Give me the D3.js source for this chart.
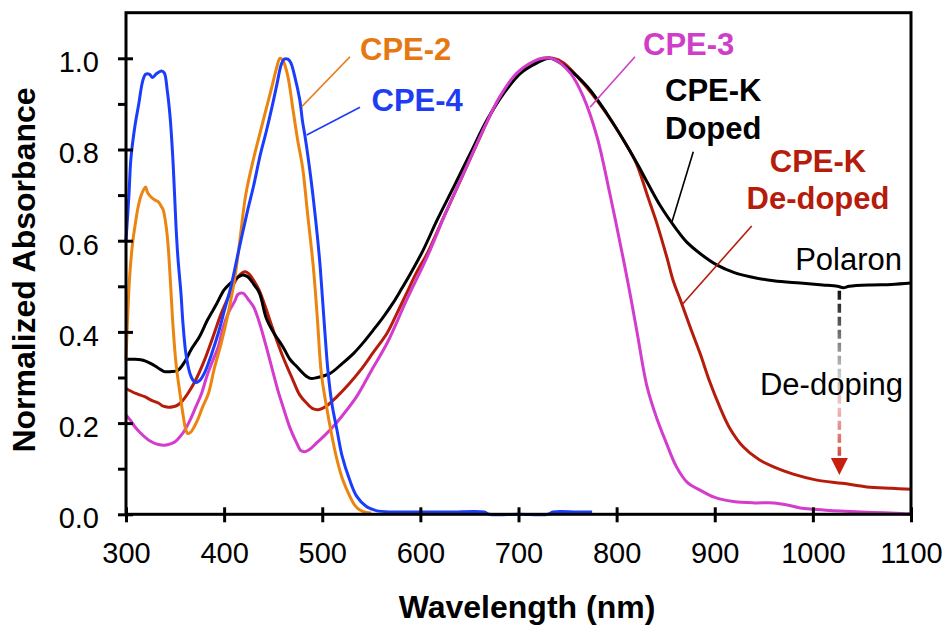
<!DOCTYPE html>
<html>
<head>
<meta charset="utf-8">
<script src="https://cdn.jsdelivr.net/npm/d3@7"></script>
<style>
  html, body { margin: 0; padding: 0; background: #fff; }
  svg { display: block; font-family: "Liberation Sans", Arial, Helvetica, sans-serif; }
</style>
</head>
<body>
<svg id="chart" width="948" height="625"></svg>
<script>
// Normalized UV-vis-NIR absorbance spectra (wavelength in nm, absorbance normalized)
const cpe4Wl  = [300,303,305,309,313,317,320,324,327,331,336,339,342,345,348,351,353,356,358,361,365,368,371,375,380,387,394,400,407,415,424,430,437,443,449,454,458,461,465,468,472,477,480,482,487,491,495,498,502,506,510,515,520,528,535,545,555,572,590,600,630,665,670,700,730,735,760,775];
const cpe4Abs = [0.60,0.70,0.78,0.85,0.90,0.95,0.965,0.965,0.958,0.966,0.972,0.968,0.93,0.87,0.77,0.63,0.56,0.485,0.42,0.353,0.31,0.295,0.289,0.293,0.31,0.35,0.397,0.445,0.50,0.58,0.667,0.72,0.79,0.84,0.895,0.945,0.985,0.998,0.998,0.99,0.96,0.91,0.86,0.835,0.76,0.69,0.61,0.54,0.42,0.31,0.24,0.185,0.13,0.075,0.04,0.017,0.008,0.005,0.005,0.005,0.005,0.005,0.0,0.0,0.0,0.005,0.005,0.005];

const cpe2Wl  = [300,302,304,307,309,312,315,318,320,322,325,329,333,336,338,341,343,345,348,351,355,358,361,363,366,369,373,378,384,390,397,404,411,416,422,430,437,443,449,453,457,460,465,470,475,480,485,491,495,499,504,510,515,521,528,533,538,545,550];
const cpe2Abs = [0.34,0.45,0.53,0.60,0.63,0.67,0.697,0.712,0.718,0.705,0.697,0.69,0.685,0.675,0.667,0.63,0.587,0.52,0.41,0.33,0.265,0.22,0.185,0.177,0.18,0.19,0.207,0.235,0.265,0.32,0.375,0.44,0.52,0.60,0.70,0.78,0.84,0.89,0.94,0.975,1.0,0.995,0.96,0.89,0.82,0.76,0.66,0.54,0.43,0.31,0.24,0.17,0.12,0.075,0.04,0.02,0.01,0.004,0.003];

const cpe3Wl  = [300,305,309,314,319,325,330,336,341,346,350,355,360,366,371,377,382,388,394,399,405,411,414,419,425,430,436,443,450,455,460,467,474,478,482,487,494,502,511,520,535,550,566,586,607,627,647,664,681,698,715,725,736,753,766,780,793,807,814,821,831,841,850,861,872,885,900,919,940,960,975,987,1000,1020,1038,1060,1090,1100];
const cpe3Abs = [0.218,0.205,0.192,0.18,0.17,0.16,0.155,0.152,0.152,0.155,0.159,0.17,0.185,0.21,0.235,0.265,0.30,0.335,0.367,0.41,0.445,0.468,0.482,0.485,0.47,0.455,0.42,0.367,0.31,0.27,0.236,0.19,0.156,0.14,0.137,0.142,0.156,0.172,0.192,0.215,0.258,0.315,0.375,0.47,0.565,0.667,0.762,0.843,0.916,0.967,0.993,1.0,0.998,0.967,0.916,0.828,0.704,0.558,0.48,0.397,0.28,0.21,0.16,0.104,0.07,0.053,0.037,0.028,0.025,0.025,0.02,0.014,0.011,0.008,0.006,0.004,0.002,0.001];

const dopedWl  = [300,308,315,320,325,332,339,346,353,360,366,375,383,392,400,408,414,419,424,430,436,443,450,460,467,474,481,488,495,508,520,532,542,552,562,572,581,590,603,617,634,651,668,685,702,719,732,749,770,790,810,822,832,845,861,871,885,902,920,936,960,987,1010,1025,1031,1037,1060,1080,1100];
const dopedAbs = [0.340,0.340,0.339,0.336,0.331,0.322,0.313,0.313,0.316,0.335,0.36,0.39,0.426,0.46,0.492,0.51,0.52,0.525,0.521,0.505,0.485,0.43,0.40,0.367,0.34,0.324,0.308,0.298,0.30,0.309,0.33,0.353,0.377,0.404,0.432,0.463,0.495,0.528,0.58,0.645,0.718,0.792,0.865,0.923,0.967,0.99,1.0,0.98,0.938,0.879,0.81,0.765,0.725,0.675,0.625,0.598,0.572,0.547,0.53,0.521,0.512,0.507,0.503,0.50,0.497,0.50,0.503,0.504,0.507];

const dedopedWl  = [300,310,319,326,333,338,343,348,353,358,363,370,380,388,397,405,411,416,421,425,431,436,442,450,460,470,477,484,491,497,504,515,527,539,552,566,576,586,596,607,624,641,658,674,691,709,725,735,746,766,787,800,810,820,832,841,851,858,865,875,885,895,905,915,929,945,960,980,1004,1030,1055,1080,1100];
const dedopedAbs = [0.276,0.265,0.258,0.25,0.244,0.237,0.235,0.236,0.24,0.25,0.265,0.29,0.338,0.385,0.44,0.48,0.51,0.525,0.532,0.528,0.51,0.49,0.455,0.404,0.345,0.295,0.262,0.244,0.231,0.23,0.237,0.258,0.285,0.316,0.355,0.397,0.44,0.485,0.53,0.572,0.653,0.733,0.814,0.887,0.945,0.982,1.0,1.0,0.99,0.945,0.887,0.845,0.81,0.77,0.695,0.638,0.565,0.51,0.47,0.41,0.353,0.29,0.236,0.19,0.148,0.12,0.104,0.088,0.075,0.068,0.06,0.057,0.055];

const xTicks = [300,400,500,600,700,800,900,1000,1100];
const yTicks = [0.0,0.2,0.4,0.6,0.8,1.0];
const yMinorTicks = [0.1,0.3,0.5,0.7,0.9];

const series = [
  { name: "CPE-K De-doped", wl: dedopedWl, abs: dedopedAbs, color: "#b51c0b" },
  { name: "CPE-K Doped",    wl: dopedWl,   abs: dopedAbs,   color: "#000000" },
  { name: "CPE-3",          wl: cpe3Wl,    abs: cpe3Abs,    color: "#d33ccc" },
  { name: "CPE-2",          wl: cpe2Wl,    abs: cpe2Abs,    color: "#ec850f" },
  { name: "CPE-4",          wl: cpe4Wl,    abs: cpe4Abs,    color: "#1a3dfc" }
];

const svg = d3.select("#chart");
const plotLeft = 126, plotRight = 911, plotTop = 12.7, plotBottom = 514.3;

const x = d3.scaleLinear().domain([300, 1100]).range([plotLeft, plotRight]);
const y = d3.scaleLinear().domain([0, 1.1]).range([plotBottom, plotTop]);

// spectra
const line = d3.line().x(d => x(d[0])).y(d => y(d[1])).curve(d3.curveCatmullRom.alpha(0.5));
svg.append("g").selectAll("path")
  .data(series)
  .join("path")
  .attr("d", s => line(s.wl.map((w, i) => [w, s.abs[i]])))
  .attr("fill", "none")
  .attr("stroke", s => s.color)
  .attr("stroke-width", 3)
  .attr("stroke-linejoin", "round");

// frame
svg.append("rect")
  .attr("x", plotLeft).attr("y", plotTop)
  .attr("width", plotRight - plotLeft).attr("height", plotBottom - plotTop)
  .attr("fill", "none").attr("stroke", "#000").attr("stroke-width", 3);

// y axis: major ticks cross the axis, minor ticks point outward
const yAxis = svg.append("g").attr("transform", `translate(${plotLeft},0)`)
  .call(d3.axisLeft(y).tickValues(yTicks).tickFormat(d3.format(".1f")).tickSize(8).tickPadding(19).tickSizeOuter(0));
yAxis.select(".domain").remove();
yAxis.selectAll(".tick line").attr("x1", 7).attr("x2", -8).attr("stroke-width", 3);
yAxis.selectAll(".tick text").attr("dy", "0.46em").attr("font-size", 29)
  .attr("font-family", "Liberation Sans, Arial, sans-serif").attr("fill", "#000");
const yMinor = svg.append("g").attr("transform", `translate(${plotLeft},0)`)
  .call(d3.axisLeft(y).tickValues(yMinorTicks).tickFormat("").tickSize(8).tickSizeOuter(0));
yMinor.select(".domain").remove();
yMinor.selectAll(".tick line").attr("stroke-width", 3);

// x axis
const xAxis = svg.append("g").attr("transform", `translate(0,${plotBottom})`)
  .call(d3.axisBottom(x).tickValues(xTicks).tickFormat(d3.format("d")).tickSize(8).tickSizeOuter(0));
xAxis.select(".domain").remove();
xAxis.selectAll(".tick line").attr("y1", -7).attr("y2", 8).attr("stroke-width", 3);
xAxis.selectAll(".tick text").attr("y", 49).attr("dy", 0).attr("font-size", 29)
  .attr("font-family", "Liberation Sans, Arial, sans-serif").attr("fill", "#000");

// axis titles
svg.append("text")
  .attr("x", 527).attr("y", 618)
  .attr("text-anchor", "middle").attr("font-size", 32).attr("font-weight", "bold")
  .text("Wavelength (nm)");
svg.append("text")
  .attr("transform", "translate(35,270) rotate(-90)")
  .attr("text-anchor", "middle").attr("font-size", 32).attr("font-weight", "bold")
  .text("Normalized Absorbance");

// series labels with leader lines
const labels = [
  { lines: ["CPE-2"], x: 360, y: 59.5, anchor: "start", color: "#e67812", lead: [350, 56.7, 301.7, 106.7] },
  { lines: ["CPE-4"], x: 371.5, y: 111, anchor: "start", color: "#1e3cf4", lead: [360, 107.3, 306.7, 135] },
  { lines: ["CPE-3"], x: 643, y: 54.5, anchor: "start", color: "#cf3ec8", lead: [635, 56.7, 590, 107.3] },
  { lines: ["CPE-K", "Doped"], x: 665, y: 101, anchor: "start", color: "#000", lead: [693.3, 151.7, 671.7, 222.7] },
  { lines: ["CPE-K", "De-doped"], x: 818, y: 171.5, anchor: "middle", color: "#b51c0b", lead: [751.7, 226, 681.7, 305] }
];
labels.forEach(l => {
  const t = svg.append("text")
    .attr("x", l.x).attr("y", l.y)
    .attr("text-anchor", l.anchor).attr("font-size", 31).attr("font-weight", "bold")
    .attr("fill", l.color);
  l.lines.forEach((s, i) => t.append("tspan").attr("x", l.x).attr("dy", i === 0 ? 0 : 37.5).text(s));
  svg.append("line")
    .attr("x1", l.lead[0]).attr("y1", l.lead[1]).attr("x2", l.lead[2]).attr("y2", l.lead[3])
    .attr("stroke", l.color).attr("stroke-width", 1.6);
});

// polaron annotation and de-doping arrow
svg.append("text").attr("x", 902).attr("y", 270).attr("text-anchor", "end")
  .attr("font-size", 31).text("Polaron");

const arrowX = x(1027), arrowTop = y(0.49), arrowTip = y(0.086);
const grad = svg.append("defs").append("linearGradient")
  .attr("id", "dedopeGrad").attr("gradientUnits", "userSpaceOnUse")
  .attr("x1", 0).attr("y1", arrowTop).attr("x2", 0).attr("y2", arrowTip);
[[0, "#111"], [0.45, "#c9c9c9"], [0.62, "#f2c2c2"], [1, "#c41f0d"]].forEach(([o, c]) =>
  grad.append("stop").attr("offset", o).attr("stop-color", c));
svg.append("line")
  .attr("x1", arrowX).attr("x2", arrowX)
  .attr("y1", arrowTop).attr("y2", arrowTip - 14)
  .attr("stroke", "url(#dedopeGrad)").attr("stroke-width", 3.5)
  .attr("stroke-dasharray", "9,4");
svg.append("path")
  .attr("d", `M${arrowX - 8.5},${arrowTip - 17} L${arrowX + 8.5},${arrowTip - 17} L${arrowX},${arrowTip} Z`)
  .attr("fill", "#c8200e");

svg.append("text").attr("x", 903).attr("y", 395).attr("text-anchor", "end")
  .attr("font-size", 31).text("De-doping");
</script>
</body>
</html>
